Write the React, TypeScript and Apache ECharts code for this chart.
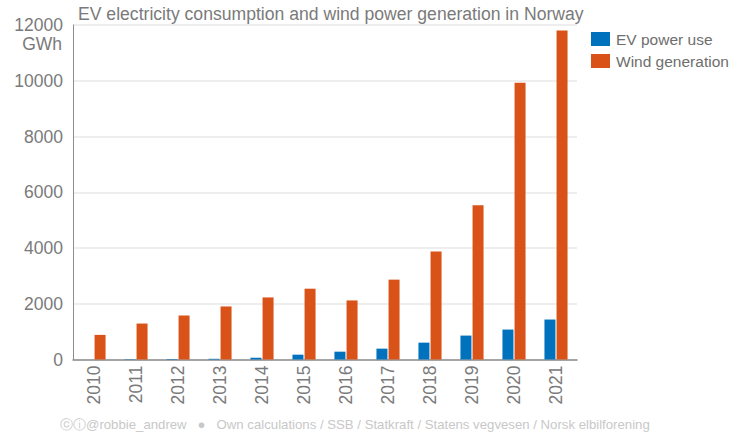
import React, { useEffect, useRef } from "react";
import * as echarts from "echarts";

const years = ["2010", "2011", "2012", "2013", "2014", "2015", "2016", "2017", "2018", "2019", "2020", "2021"];
const evPowerUse = [0, 12, 18, 25, 65, 173, 281, 389, 605, 858, 1074, 1434];
const windGeneration = [883, 1290, 1578, 1903, 2227, 2540, 2119, 2865, 3874, 5532, 9928, 11802];
const yTicks = { min: 0, max: 12000, interval: 2000 };

const FONT = "'Liberation Sans', Arial, Helvetica, sans-serif";

export default function App() {
  const ref = useRef<HTMLDivElement>(null);
  useEffect(() => {
    if (!ref.current) return;
    const chart = echarts.init(ref.current, null, { renderer: "svg" });
    chart.setOption({
      animation: false,
      backgroundColor: "#ffffff",
      textStyle: { fontFamily: FONT },
      title: {
        text: "EV electricity consumption and wind power generation in Norway",
        left: 73,
        top: 0,
        textStyle: { fontFamily: FONT, fontSize: 17.6, fontWeight: "normal", color: "#7a7a7a" },
      },
      legend: {
        orient: "vertical",
        left: 591,
        top: 31,
        padding: 0,
        itemWidth: 19,
        itemHeight: 14,
        itemGap: 6,
        icon: "rect",
        textStyle: { fontFamily: FONT, fontSize: 15.5, color: "#6e6e6e", padding: [0, 0, 0, 1] },
        data: ["EV power use", "Wind generation"],
      },
      grid: { left: 73, right: 154, top: 25, bottom: 72.5, containLabel: false },
      xAxis: {
        type: "category",
        data: years,
        axisLine: { lineStyle: { color: "#8c8c8c", width: 1.5 } },
        axisTick: { alignWithLabel: true, length: 5, lineStyle: { color: "#8c8c8c" } },
        axisLabel: { rotate: 90, fontFamily: FONT, fontSize: 17.5, color: "#7a7a7a", margin: 6 },
      },
      yAxis: {
        type: "value",
        min: yTicks.min,
        max: yTicks.max,
        interval: yTicks.interval,
        axisLine: { show: true, lineStyle: { color: "#8c8c8c", width: 1 } },
        axisTick: { show: false },
        splitLine: { lineStyle: { color: "#e8e8e8", width: 1.5 } },
        axisLabel: {
          fontFamily: FONT,
          fontSize: 17.5,
          color: "#7a7a7a",
          margin: 10,
          formatter: (v: number) => String(v),
        },
      },
      graphic: [
        {
          type: "text",
          right: 731 - 62,
          top: 35,
          style: { text: "GWh", font: `17.5px ${FONT}`, fill: "#7a7a7a", textAlign: "right" },
        },
        {
          type: "text",
          left: 60,
          top: 418,
          style: {
            text: "ⓒⓘ@robbie_andrew   ●   Own calculations / SSB / Statkraft / Statens vegvesen / Norsk elbilforening",
            font: `13.2px ${FONT}`,
            fill: "#c8c8c8",
          },
        },
      ],
      series: [
        {
          name: "EV power use",
          type: "bar",
          data: evPowerUse,
          itemStyle: { color: "#0072BD" },
          barWidth: 11,
          barGap: "10%",
        },
        {
          name: "Wind generation",
          type: "bar",
          data: windGeneration,
          itemStyle: { color: "#D95319" },
          barWidth: 11,
          barGap: "10%",
        },
      ],
    });
    return () => chart.dispose();
  }, []);
  return <div ref={ref} style={{ width: 731, height: 432, position: "absolute", left: 0, top: 0 }} />;
}
